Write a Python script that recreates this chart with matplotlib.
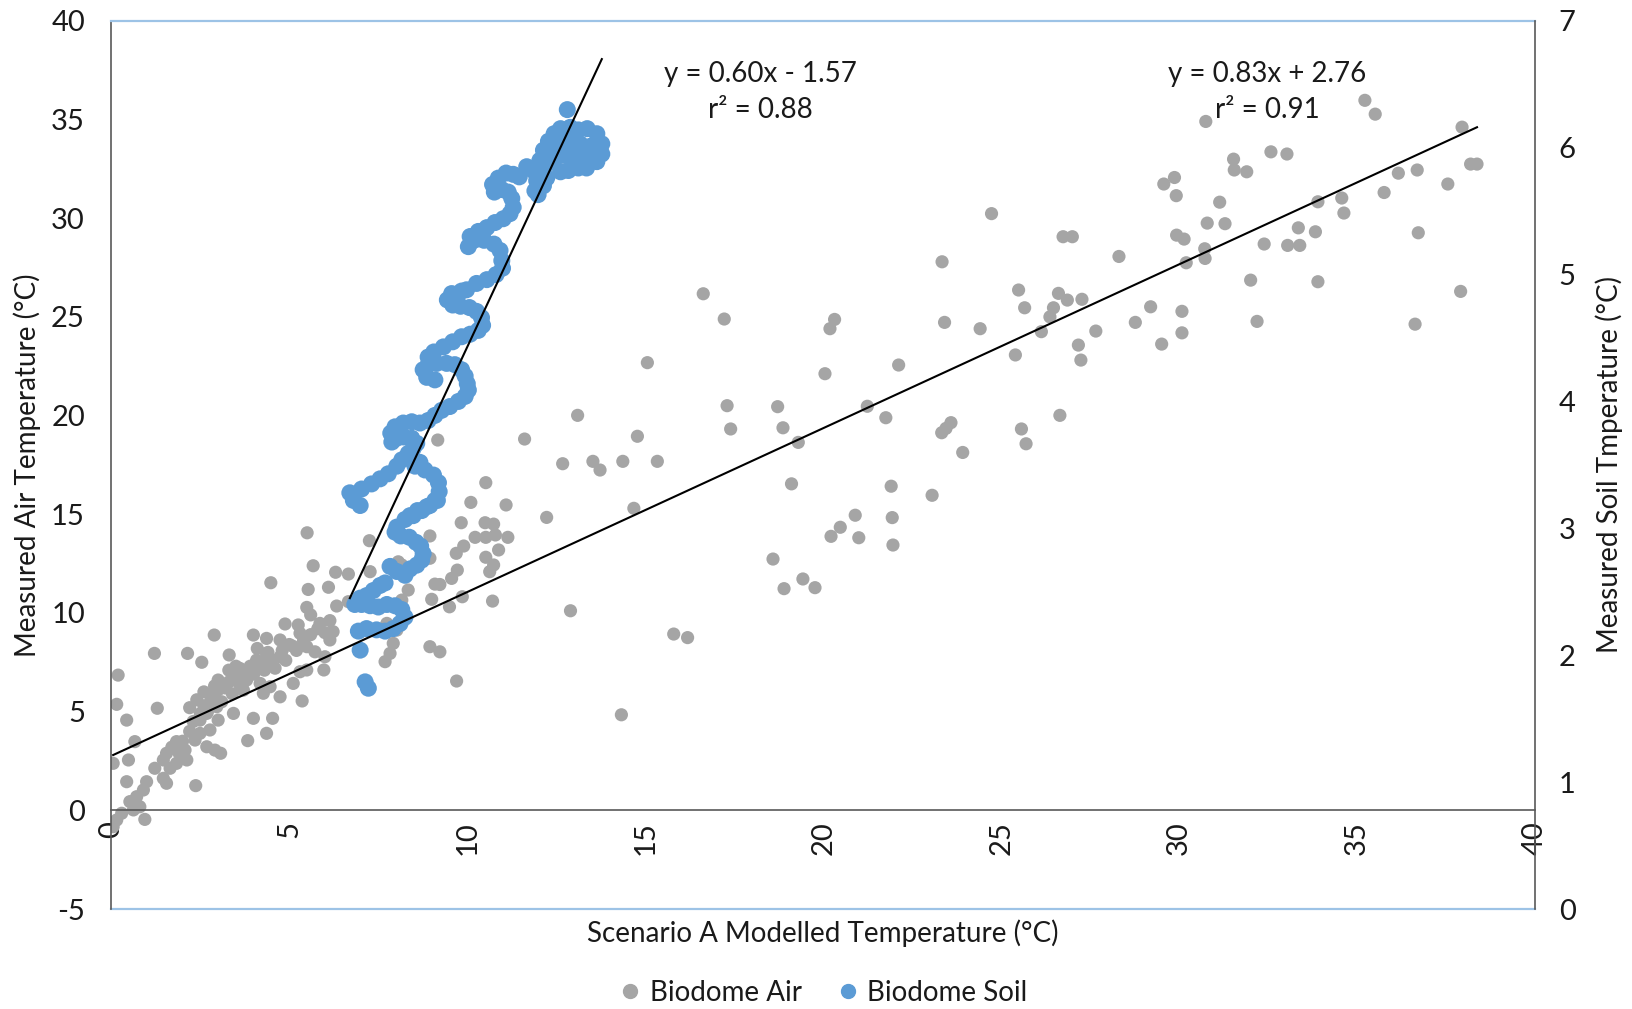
import matplotlib
matplotlib.use("Agg")
import matplotlib.pyplot as plt
from matplotlib.lines import Line2D

plt.rcParams['font.family'] = ['Lato', 'DejaVu Sans']
plt.rcParams['axes.unicode_minus'] = False

# ---- Biodome Air: modelled vs measured air temperature (left axis) ----
air_x = [
    35.22, 35.51, 30.75, 37.95, 32.58, 33.03, 31.53, 31.55, 31.90, 29.87, 29.57, 29.92,
    38.19, 38.37, 36.16, 36.69, 37.55, 35.76, 31.14, 33.90, 34.57, 34.63, 30.79, 31.29,
    33.35, 33.83, 36.72, 29.93, 30.14, 32.39, 33.05, 33.39, 30.72, 30.73, 30.20, 28.31,
    26.74, 27.00, 32.01, 33.90, 37.91, 26.61, 26.86, 27.27, 26.47, 26.37, 26.13, 27.17,
    27.24, 27.66, 28.77, 29.20, 30.08, 30.08, 29.51, 32.19, 36.63, 26.65, 24.73,
    23.34, 16.63, 17.22, 20.32, 20.19, 25.49, 25.66, 23.41, 24.41, 25.40, 22.12, 20.05,
    15.06, 17.30, 17.40, 18.72, 18.87, 19.30, 21.24, 21.76, 23.33, 23.59, 23.45, 23.92,
    25.57, 25.70, 19.11, 21.91, 23.06, 20.90, 21.94, 20.48, 20.22, 21.00, 21.96, 18.59,
    19.43, 18.90, 19.77, 15.80, 16.19, 14.33, 12.90, 9.70,
    13.10, 11.61, 14.78, 12.68, 13.53, 13.73, 14.37, 15.34, 10.52, 10.10, 11.09, 12.23,
    14.68, 9.83, 10.50, 10.74, 10.22, 10.52, 10.79, 11.14, 9.90, 9.69, 10.88, 10.52,
    10.74, 10.63, 9.72, 9.56, 9.86, 9.50, 10.71, 9.23, 9.17, 9.23,
    8.95, 7.25, 9.09, 9.00, 8.95, 7.27, 8.16, 8.06, 8.34, 8.16, 7.92, 7.83, 7.69, 7.74,
    8.02, 8.95,
    5.50, 5.67, 4.48, 5.53, 6.10, 6.30, 6.66, 5.49, 6.33, 6.66,
    2.89, 1.21, 2.14, 2.54, 3.31, 3.99, 4.36, 4.74, 4.88, 5.25, 5.30, 5.86, 6.14, 6.23,
    6.14, 5.09, 5.49, 5.72, 6.00, 4.74, 4.36, 4.08, 3.61, 3.85, 5.30, 5.49, 5.11, 4.74,
    5.36, 5.97, 3.99, 4.53, 4.36, 3.83, 3.43, 3.71, 4.18, 4.27, 4.46, 2.96, 2.68, 3.00,
    2.77, 2.49, 2.35, 2.68, 3.07, 2.07, 1.83, 2.12, 1.83, 1.55, 1.46, 1.22, 1.46, 1.55,
    2.37, 1.65, 0.99, 0.90, 0.71, 0.52, 0.80, 0.62, 0.94, 0.29, 0.15, 0.05, 0.43, 0.05,
    0.48, 0.66, 0.43, 0.15, 0.19, 1.29, 2.91, 2.49,
    1.90, 2.00, 2.20, 2.30, 2.50, 2.60, 2.70, 2.80, 2.90, 3.00, 3.10, 3.20, 3.30, 3.40,
    3.50, 3.60, 3.70, 3.80, 3.90, 4.00, 4.20, 4.30, 4.50, 4.60, 4.80, 4.90, 5.00, 5.20,
    5.40, 5.60, 5.80, 6.00, 1.70, 2.40, 2.60, 3.00, 3.50, 2.90, 2.20, 3.30, 4.10, 4.40,
    5.60,
]
air_y = [
    35.97, 35.27, 34.90, 34.61, 33.36, 33.25, 32.99, 32.44, 32.35, 32.06, 31.73, 31.14,
    32.74, 32.74, 32.28, 32.44, 31.73, 31.30, 30.81, 30.83, 31.02, 30.26, 29.75, 29.72,
    29.51, 29.31, 29.26, 29.14, 28.94, 28.69, 28.62, 28.62, 28.45, 27.96, 27.74, 28.06,
    29.06, 29.06, 26.86, 26.78, 26.29, 26.19, 25.85, 25.89, 25.46, 25.00, 24.25, 23.57,
    22.81, 24.28, 24.72, 25.51, 25.28, 24.19, 23.62, 24.77, 24.63, 20.01, 30.23,
    27.79, 26.17, 24.89, 24.87, 24.40, 26.36, 25.46, 24.72, 24.40, 23.07, 22.56, 22.12,
    22.68, 20.50, 19.32, 20.45, 19.38, 18.64, 20.47, 19.89, 19.13, 19.64, 19.35, 18.13,
    19.32, 18.57, 16.54, 16.42, 15.96, 14.95, 14.83, 14.34, 13.88, 13.81, 13.44, 12.73,
    11.72, 11.23, 11.28, 8.93, 8.75, 4.84, 10.11, 6.55,
    20.01, 18.81, 18.95, 17.56, 17.68, 17.24, 17.68, 17.68, 16.60, 15.60, 15.47, 14.84,
    15.30, 14.57, 14.57, 14.50, 13.83, 13.83, 13.95, 13.83, 13.39, 13.02, 13.19, 12.82,
    12.43, 12.09, 12.17, 11.75, 10.82, 10.31, 10.60, 11.44, 18.76, 8.03,
    13.90, 13.66, 11.46, 10.69, 8.29, 12.09, 12.43, 12.59, 11.16, 10.65, 8.46, 7.95, 7.53, 9.47,
    9.13, 12.77,
    14.06, 12.39, 11.53, 11.19, 11.30, 12.06, 11.97, 10.28, 10.35, 10.57,
    8.88, 7.95, 7.95, 7.50, 7.87, 8.88, 8.71, 8.63, 9.44, 9.39, 8.97, 9.47, 9.61, 9.05,
    8.63, 8.32, 8.29, 8.03, 7.78, 7.78, 7.95, 7.61, 7.19, 6.94, 7.02, 7.11, 6.43, 5.75,
    5.54, 7.11, 4.66, 4.66, 3.90, 3.53, 4.91, 6.09, 6.43, 5.93, 6.26, 5.25, 4.91, 4.57,
    4.07, 3.90, 3.56, 3.22, 2.89, 3.05, 3.48, 2.55, 2.38, 2.89, 2.55, 2.13, 1.62, 1.37,
    1.25, 2.13, 1.45, 1.03, 0.69, 0.44, 0.18, 0.02, -0.46, -0.15, -0.49, -0.83, 1.45, 2.38,
    2.55, 3.48, 4.57, 5.37, 6.85, 5.17, 3.05, 4.57,
    2.90, 3.50, 4.00, 4.50, 4.90, 5.30, 5.00, 5.60, 5.90, 6.10, 5.50, 6.20, 6.50, 5.90,
    6.70, 6.40, 7.00, 6.60, 7.30, 6.90, 7.40, 7.10, 7.60, 7.20, 8.10, 7.60, 8.40, 8.10,
    8.60, 8.90, 9.20, 9.00, 3.20, 5.60, 6.00, 6.60, 7.30, 6.30, 5.20, 7.10, 8.20, 8.00,
    9.90,
]

# ---- Biodome Soil: modelled temperature vs measured soil temperature (right axis) ----
soil_x = [
    7.13, 7.22, 6.99, 6.94, 7.17, 7.45, 7.69, 7.92, 8.11, 8.25, 8.16, 7.97, 7.74, 7.50,
    7.27, 7.03, 6.84, 6.99, 7.17, 7.36, 7.55, 7.69, 7.83, 8.02, 8.25, 8.39, 8.58, 8.72,
    8.76, 8.69, 8.56, 8.37, 8.13, 7.97, 8.02, 8.25, 8.48, 8.72, 8.95, 9.16,
    6.80, 6.99, 6.70, 7.03, 7.31, 7.55, 7.78, 8.02, 8.16, 8.34, 8.48, 8.58, 8.44, 8.22,
    8.02, 7.88, 7.85, 7.97, 8.20, 8.44, 8.67, 8.90, 9.09, 9.28, 9.51, 9.75, 9.94, 10.03,
    10.00, 9.94, 9.84, 9.65, 9.42, 9.14, 8.90, 8.76, 8.86, 9.09, 8.90, 9.06, 9.33, 9.59,
    9.84, 10.08, 10.31, 10.43, 10.40, 10.26, 10.06, 9.81, 9.59, 9.44, 9.56, 9.84,
    8.53, 8.81, 9.05, 9.19, 9.21, 9.09, 8.86, 8.60, 8.39, 8.67,
    9.51, 9.75, 9.98, 10.26, 10.55, 10.81, 10.99, 10.97, 10.92, 10.75, 10.47, 10.19,
    10.03, 10.08, 10.31, 10.55, 10.78, 11.01, 11.20, 11.29, 11.25, 11.15, 10.97, 10.76,
    10.71, 10.87, 11.09, 11.29, 11.46, 11.67, 11.85, 11.95, 11.90, 11.99, 12.14, 12.23,
    12.14, 12.04, 12.14, 12.28, 12.44, 12.62, 12.81,
    12.89, 13.12, 13.37, 13.64, 13.78, 13.78, 13.64, 13.35, 13.12, 12.84, 12.62, 12.42,
    12.34, 12.61, 12.89, 13.17, 13.45, 13.26, 12.98, 12.70, 13.59, 13.07,
]
soil_y = [
    1.79, 1.74, 2.04, 2.19, 2.21, 2.20, 2.19, 2.21, 2.25, 2.30, 2.36, 2.39, 2.40, 2.38,
    2.39, 2.40, 2.40, 2.45, 2.47, 2.51, 2.55, 2.57, 2.70, 2.66, 2.63, 2.68, 2.71, 2.75,
    2.80, 2.86, 2.89, 2.93, 2.94, 2.97, 3.01, 3.07, 3.10, 3.14, 3.18, 3.22,
    3.22, 3.18, 3.28, 3.31, 3.35, 3.39, 3.43, 3.49, 3.54, 3.59, 3.63, 3.67, 3.71, 3.72,
    3.71, 3.68, 3.75, 3.80, 3.83, 3.84, 3.83, 3.85, 3.89, 3.93, 3.96, 4.00, 4.04, 4.09,
    4.14, 4.20, 4.25, 4.29, 4.30, 4.30, 4.29, 4.25, 4.19, 4.17, 4.35, 4.39, 4.43, 4.47,
    4.51, 4.53, 4.56, 4.60, 4.66, 4.71, 4.74, 4.75, 4.76, 4.80, 4.85, 4.87,
    3.49, 3.46, 3.42, 3.36, 3.29, 3.22, 3.17, 3.14, 3.10, 3.52,
    4.80, 4.85, 4.88, 4.93, 4.96, 5.00, 5.05, 5.11, 5.19, 5.24, 5.27, 5.27,
    5.22, 5.30, 5.34, 5.37, 5.41, 5.44, 5.48, 5.53, 5.60, 5.65, 5.67, 5.65,
    5.71, 5.76, 5.80, 5.79, 5.77, 5.85, 5.82, 5.74, 5.66, 5.63, 5.70, 5.76,
    5.83, 5.90, 5.98, 6.05, 6.11, 6.15, 6.30,
    6.16, 6.14, 6.15, 6.11, 6.03, 5.95, 5.89, 5.84, 5.84, 5.82, 5.81, 5.89,
    5.98, 6.03, 6.05, 6.03, 6.01, 5.94, 5.93, 5.94, 5.97, 5.99,
]

# Linear fits as reported on the chart
air_slope, air_icept, air_r2 = 0.83, 2.76, 0.91
soil_slope, soil_icept, soil_r2 = 0.60, -1.57, 0.88

x_ticks = [0, 5, 10, 15, 20, 25, 30, 35, 40]
left_ticks = [-5, 0, 5, 10, 15, 20, 25, 30, 35, 40]
right_ticks = [0, 1, 2, 3, 4, 5, 6, 7]

GRAY = '#A5A5A5'
BLUE = '#5B9BD5'
FRAME_BLUE = '#9DC3E6'
AXIS_GRAY = '#595959'
TEXT = '#1a1a1a'

fig = plt.figure(figsize=(16.33, 10.09), dpi=100)
ax = fig.add_axes([0.0682, 0.0991, 0.8718, 0.8803])
ax2 = ax.twinx()

ax.set_xlim(0, 40)
ax.set_ylim(-5, 40)
ax2.set_ylim(0, 7)

ax.scatter(air_x, air_y, s=90, color=GRAY, edgecolors='none', zorder=2)
ax2.scatter(soil_x, soil_y, s=150, color=BLUE, edgecolors='none', zorder=2)

# regression lines (both drawn above the scatter layers)
ax_lo, ax_hi = min(air_x), max(air_x)
ax2.plot([ax_lo, ax_hi],
         [air_slope * ax_lo + air_icept, air_slope * ax_hi + air_icept],
         color='black', lw=1.5, transform=ax.transData, zorder=5)
sx_lo, sx_hi = min(soil_x), max(soil_x)
ax2.plot([sx_lo, sx_hi],
         [soil_slope * sx_lo + soil_icept, soil_slope * sx_hi + soil_icept],
         color='black', lw=1.5, zorder=5)

# ticks and labels
ax.set_xticks(x_ticks)
ax.set_yticks(left_ticks)
ax2.set_yticks(right_ticks)
ax.tick_params(axis='both', length=0, labelsize=21, colors=TEXT)
ax.tick_params(axis='x', pad=8, labelrotation=90)
ax.tick_params(axis='y', pad=19)
ax2.tick_params(axis='y', length=0, labelsize=21, colors=TEXT, pad=17)

# spines: x axis line sits at y = 0, frame top/bottom in light blue
ax.spines['bottom'].set_position(('data', 0))
ax.spines['bottom'].set_color(AXIS_GRAY)
ax.spines['bottom'].set_linewidth(1.2)
ax.spines['left'].set_color(AXIS_GRAY)
ax.spines['left'].set_linewidth(1.2)
ax.spines['top'].set_color(FRAME_BLUE)
ax.spines['top'].set_linewidth(1.6)
ax.spines['right'].set_visible(False)
for side in ('top', 'bottom', 'left'):
    ax2.spines[side].set_visible(False)
ax2.spines['right'].set_color(AXIS_GRAY)
ax2.spines['right'].set_linewidth(1.2)
ax.add_line(Line2D([0, 1], [0, 0], transform=ax.transAxes, color=FRAME_BLUE,
                   lw=1.6, clip_on=False, zorder=1))

# axis titles
ax.set_xlabel('Scenario A Modelled Temperature (°C)', fontsize=20, color=TEXT,
              va='center')
ax.xaxis.set_label_coords(0.5, -0.027)
ax.set_ylabel('Measured Air Temperature (°C)', fontsize=20, color=TEXT,
              va='center')
ax.yaxis.set_label_coords(-0.0593, 0.5)
ax2.set_ylabel('Measured Soil Tmperature (°C)', fontsize=20, color=TEXT,
               rotation=90, va='center')
ax2.yaxis.set_label_coords(1.052, 0.5)

# fit equations
eq_font = ['Liberation Sans Narrow', 'Lato', 'DejaVu Sans']
ax.text(18.23, 37.3, f'y = {soil_slope:.2f}x - {abs(soil_icept):.2f}',
        ha='center', va='center', fontsize=20, family=eq_font, color=TEXT)
ax.text(18.23, 35.5, f'r² = {soil_r2:.2f}',
        ha='center', va='center', fontsize=20, family=eq_font, color=TEXT)
ax.text(32.48, 37.3, f'y = {air_slope:.2f}x + {air_icept:.2f}',
        ha='center', va='center', fontsize=20, family=eq_font, color=TEXT)
ax.text(32.48, 35.5, f'r² = {air_r2:.2f}',
        ha='center', va='center', fontsize=20, family=eq_font, color=TEXT)

handles = [
    Line2D([], [], marker='o', ls='none', color=GRAY, markersize=10, label='Biodome Air'),
    Line2D([], [], marker='o', ls='none', color=BLUE, markersize=10, label='Biodome Soil'),
]
fig.legend(handles=handles, loc='center', bbox_to_anchor=(0.5046, 0.016), ncol=2,
           frameon=False, fontsize=20, handlelength=0.7, handletextpad=0.35,
           columnspacing=1.3, labelcolor=TEXT)

fig.savefig('out.png', dpi=100)
